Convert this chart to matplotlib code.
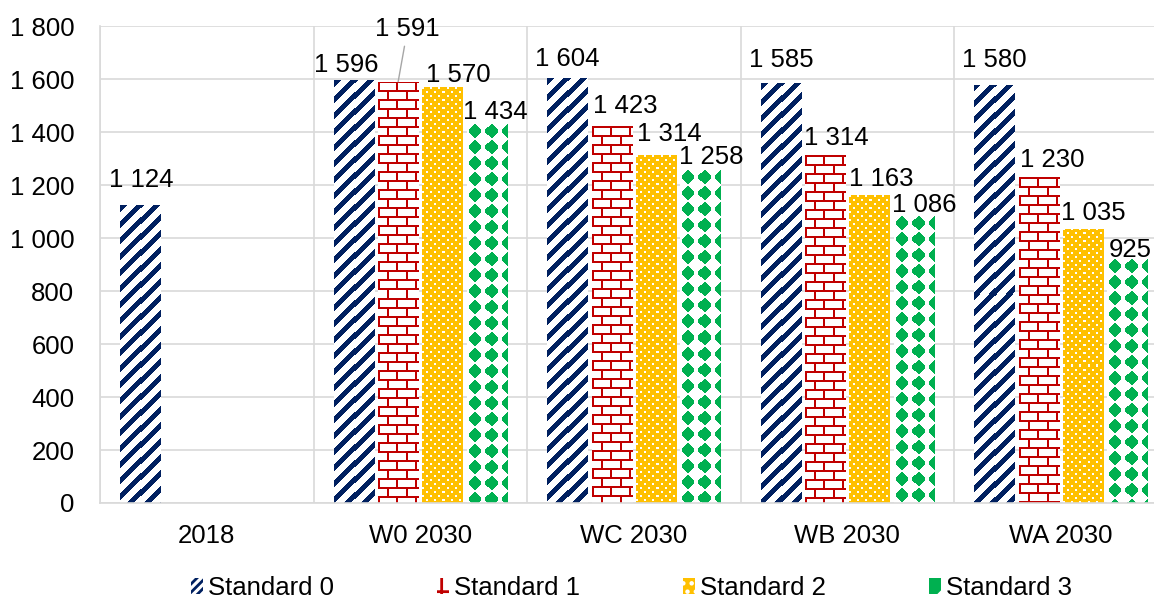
import numpy as np
import matplotlib
matplotlib.use('Agg')
import matplotlib.pyplot as plt
from matplotlib.patches import Patch
from matplotlib.ticker import FuncFormatter, FixedLocator
from matplotlib.colors import to_rgba

categories = ['2018', 'W0 2030', 'WC 2030', 'WB 2030', 'WA 2030']
series_names = ['Standard 0', 'Standard 1', 'Standard 2', 'Standard 3']
standard_0 = [1124, 1596, 1604, 1585, 1580]
standard_1 = [None, 1591, 1423, 1314, 1230]
standard_2 = [None, 1570, 1314, 1163, 1035]
standard_3 = [None, 1434, 1258, 1086, 925]
y_ticks = [0, 200, 400, 600, 800, 1000, 1200, 1400, 1600, 1800]

NAVY = '#002060'
RED = '#C00000'
GOLD = '#FFC000'
GREEN = '#00B050'
GRID = '#D9D9D9'
FS = 18.5

# label offsets (px) from top centre of each bar, as Excel placed them
label_offsets = {
    (0, 0): (0.5, 27.5), (0, 1): (-8, 18), (0, 2): (0, 22), (0, 3): (0, 26), (0, 4): (0, 27),
    (1, 1): (9.5, 55.5), (1, 2): (13.5, 22.5), (1, 3): (11.5, 19.5), (1, 4): (13.5, 20),
    (2, 1): (16, 14.5), (2, 2): (13.5, 23.7), (2, 3): (12, 18.5), (2, 4): (10.5, 18.5),
    (3, 1): (9, 14), (3, 2): (11.5, 15), (3, 3): (11, 12.7), (3, 4): (3, 10.5),
}


def tile(kind):
    if kind == 'stripes':
        p = 16
        r, c = np.mgrid[0:p, 0:p]
        fg, bg = NAVY, 'white'
        mask = (r + c) % p < 7
    elif kind == 'brick':
        h, w = 18, 18
        r, c = np.mgrid[0:h, 0:w]
        fg, bg = RED, 'white'
        mask = np.zeros((h, w), bool)
        mask[0:2, :] = True
        mask[9:11, :] = True
        mask[2:9, 0:2] = True
        mask[11:18, 9:11] = True
    elif kind == 'dots':
        p = 16
        r, c = np.mgrid[0:p, 0:p]
        fg, bg = 'white', GOLD
        mask = ((r % 8 < 2) & (c % 8 < 2)) | (((r - 4) % 8 < 2) & ((c - 4) % 8 < 2))
    else:
        p = 16
        r, c = np.mgrid[0:p, 0:p]
        fg, bg = GREEN, 'white'
        dx = np.abs(c - 7.5)
        dy = np.abs(r - 7.5)
        mask = ((dx + dy <= 7.5) & (dx <= 6) & (dy <= 5.5)) | ((dx <= 1) & (dy <= 7))
    img = np.empty(mask.shape + (4,))
    img[:] = to_rgba(bg)
    img[mask] = to_rgba(fg)
    return img


def fill_pattern(ax, bar, kind):
    x0, y0 = bar.get_x(), bar.get_y()
    w, h = bar.get_width(), bar.get_height()
    (px0, py0), (px1, py1) = ax.transData.transform([(x0, y0), (x0 + w, y0 + h)])
    nw, nh = max(int(round(px1 - px0)), 1), max(int(round(py1 - py0)), 1)
    t = tile(kind)
    reps = (nh // t.shape[0] + 2, nw // t.shape[1] + 2, 1)
    img = np.tile(t, reps)[:nh, :nw]
    im = ax.imshow(img, extent=(x0, x0 + w, y0, y0 + h), origin='upper',
                   interpolation='nearest', aspect='auto', zorder=2)
    im.set_clip_path(bar)


plt.rcParams['font.family'] = ['Liberation Sans', 'DejaVu Sans']
plt.rcParams['hatch.linewidth'] = 2.0

fig = plt.figure(figsize=(11.54, 6.01), dpi=100)
ax = fig.add_axes([0.0867, 0.1631, 0.9250, 0.7930])
ax.set_xlim(-0.5, 4.5)
ax.set_ylim(0, 1800)

all_series = [standard_0, standard_1, standard_2, standard_3]
kinds = ['stripes', 'brick', 'dots', 'diamond']
x = np.arange(len(categories))
step = 0.2075
width = 0.1874

for si, vals in enumerate(all_series):
    offs = (si - 1.5) * step
    for ci, v in enumerate(vals):
        if v is None:
            continue
        bar = ax.bar(x[ci] + offs, v, width=width, color='none', linewidth=0, zorder=2)[0]
        fill_pattern(ax, bar, kinds[si])
        dx, dy = label_offsets[(si, ci)]
        label = f"{v:,}".replace(',', ' ')
        if (si, ci) == (1, 1):
            ax.annotate(label, xy=(x[ci] + offs, v), xytext=(dx, dy - 9.5),
                        textcoords='offset pixels', ha='center', va='baseline',
                        fontsize=FS, color='black', zorder=4,
                        arrowprops=dict(arrowstyle='-', color='#A6A6A6', lw=1,
                                        shrinkA=2, shrinkB=0))
        else:
            ax.annotate(label, xy=(x[ci] + offs, v), xytext=(dx, dy - 9.5),
                        textcoords='offset pixels', ha='center', va='baseline',
                        fontsize=FS, color='black', zorder=4)

ax.set_xlim(-0.5, 4.5)
ax.set_ylim(0, 1800)

ax.yaxis.set_major_locator(FixedLocator(y_ticks))
ax.yaxis.set_major_formatter(FuncFormatter(lambda v, p: f"{int(v):,}".replace(',', ' ')))
ax.set_xticks(x)
ax.set_xticklabels(categories)
ax.set_xticks(np.arange(-0.5, 5.0, 1.0), minor=True)
ax.tick_params(axis='y', length=0, pad=18.5, labelsize=FS, labelcolor='black')
ax.tick_params(axis='x', which='both', length=0, pad=15, labelsize=FS, labelcolor='black')
ax.grid(axis='y', which='major', color=GRID, linewidth=1.2, zorder=0)
ax.grid(axis='x', which='minor', color=GRID, linewidth=1.2, zorder=0)
ax.set_axisbelow(True)
for s in ['top', 'right']:
    ax.spines[s].set_visible(False)
for s in ['left', 'bottom']:
    ax.spines[s].set_color(GRID)
    ax.spines[s].set_linewidth(1.2)

handles = [
    Patch(facecolor='white', edgecolor=NAVY, hatch='////', linewidth=0),
    Patch(facecolor='white', edgecolor=RED, hatch='+', linewidth=0),
    Patch(facecolor=GOLD, edgecolor='white', hatch='..', linewidth=0),
    Patch(facecolor=GREEN, edgecolor='white', hatch='x', linewidth=0),
]
fig.legend(handles, series_names, loc='center', bbox_to_anchor=(0.547, 0.0216),
           ncol=4, frameon=False, fontsize=FS, handlelength=0.47, handleheight=0.6,
           handletextpad=0.2, columnspacing=4.0, borderaxespad=0, borderpad=0)

fig.savefig('out.png', dpi=100)
